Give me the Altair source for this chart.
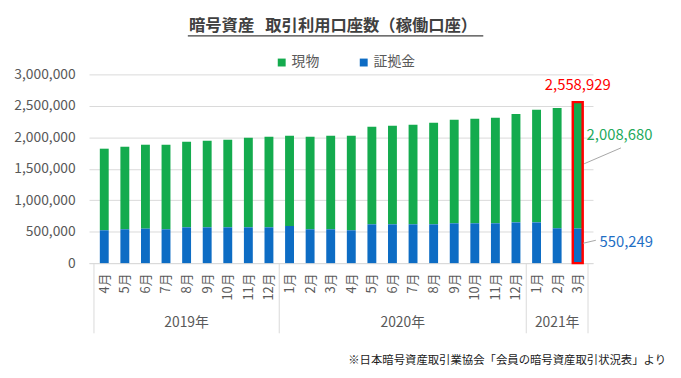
import altair as alt
import pandas as pd

# ---- data ----
months = ["4月", "5月", "6月", "7月", "8月", "9月", "10月", "11月", "12月",
          "1月", "2月", "3月", "4月", "5月", "6月", "7月", "8月", "9月", "10月", "11月", "12月",
          "1月", "2月", "3月"]
years = ["2019年", "2020年", "2021年"]
year_centers = [4, 14.5, 22]
year_bounds = [-0.5, 8.5, 20.5, 23.5]
genbutsu = [1297000, 1312000, 1334000, 1344000, 1361000, 1376000, 1392000, 1424000, 1440000,
            1434000, 1471000, 1486000, 1502000, 1550000, 1566000, 1581000, 1613000, 1644000,
            1660000, 1676000, 1724000, 1788000, 1913000, 2008680]
shokokin = [522000, 538000, 548000, 538000, 569000, 569000, 569000, 569000, 569000,
            590000, 538000, 538000, 522000, 617000, 617000, 617000, 617000, 633000,
            633000, 633000, 648000, 648000, 554000, 550249]
y_ticks = [0, 500000, 1000000, 1500000, 2000000, 2500000, 3000000]
series_names = ["現物", "証拠金"]
title_text = "暗号資産\u00a0\u00a0\u00a0取引利用口座数（稼働口座）"
source_text = "※日本暗号資産取引業協会「会員の暗号資産取引状況表」より"

GREEN = "#14ab4e"
BLUE = "#0d6cc4"
FONT = "Noto Sans CJK JP"
W, H = 510, 191

rows = []
for i in range(len(months)):
    rows.append({"idx": i, "series": "現物", "value": genbutsu[i], "ord": 1})
    rows.append({"idx": i, "series": "証拠金", "value": shokokin[i], "ord": 0})
df = pd.DataFrame(rows)

last = len(months) - 1
total_last = genbutsu[last] + shokokin[last]
ann = pd.DataFrame([{"idx": last, "total": total_last, "zero": 0,
                     "g": genbutsu[last], "b": shokokin[last],
                     "tl": f"{total_last:,}", "gl": f"{genbutsu[last]:,}", "bl": f"{shokokin[last]:,}"}])

xscale = alt.Scale(domain=[-0.5, 23.5], nice=False, zero=False)
yscale = alt.Scale(domain=[0, 3000000], nice=False)
label_expr = "[" + ",".join(f"'{m}'" for m in months) + "][datum.value]"

AX = alt.Axis(values=list(range(len(months))), labelExpr=label_expr, labelAngle=270,
              ticks=False, grid=False, domainColor="#d9d9d9", labelFontSize=13,
              labelColor="#595959", labelPadding=10, labelOverlap=False,
              labelFlush=False, title=None, labelFont=FONT)
AY = alt.Axis(values=y_ticks, labelExpr="format(datum.value, ',')", grid=True, gridColor="#d9d9d9",
              domain=False, ticks=False,
              labelPadding=14, labelFontSize=14, labelColor="#595959", title=None,
              labelFont=FONT, labelOverlap=False)


def X(field):
    return alt.X(field, scale=xscale, axis=AX, title=None)


def Y(field, **kw):
    return alt.Y(field, scale=yscale, axis=AY, title=None, **kw)


bars = alt.Chart(df).mark_bar(size=9).encode(
    x=X("idx:Q"),
    y=Y("value:Q", stack="zero"),
    color=alt.Color("series:N", scale=alt.Scale(domain=series_names, range=[GREEN, BLUE]),
                    legend=alt.Legend(orient="none", legendX=188, legendY=-19, direction="horizontal",
                                      title=None, symbolType="square", symbolSize=64,
                                      symbolStrokeWidth=0, labelFontSize=14, labelColor="#595959",
                                      labelFont=FONT, labelOffset=3, columnPadding=38)),
    order=alt.Order("ord:Q"),
)

seps = alt.Chart(pd.DataFrame({"sep": year_bounds})).mark_rule(color="#d9d9d9").encode(
    x=X("sep:Q"), y=alt.value(H), y2=alt.value(H + 71))

year_txt = alt.Chart(pd.DataFrame({"c": year_centers, "y": years})).mark_text(
    fontSize=14, color="#595959", font=FONT).encode(
    x=X("c:Q"), y=alt.value(H + 61), text="y:N")

redbox = alt.Chart(ann).mark_bar(size=10, fillOpacity=0, stroke="#ff0000", strokeWidth=2.5).encode(
    x=X("idx:Q"), y=Y("zero:Q"), y2="total:Q")

t_total = alt.Chart(ann).mark_text(fontSize=15, color="#ff0000", font=FONT, dy=-17).encode(
    x=X("idx:Q"), y=Y("total:Q"), text="tl:N")
t_g = alt.Chart(ann).mark_text(fontSize=15, color="#22a95b", font=FONT, align="left", dx=9, dy=33).encode(
    x=X("idx:Q"), y=Y("total:Q"), text="gl:N")
t_b = alt.Chart(ann).mark_text(fontSize=15, color="#1f6fc5", font=FONT, align="left", dx=22, dy=14).encode(
    x=X("idx:Q"), y=Y("b:Q"), text="bl:N")

leaders = pd.DataFrame({"x": [23.31, 23.26], "x2": [25.1, 23.88],
                        "y": [1578900, 315800], "y2": [1831500, 363200]})
lead = alt.Chart(leaders).mark_rule(color="#a6a6a6", strokeWidth=1).encode(
    x=X("x:Q"), x2="x2:Q", y=Y("y:Q"), y2="y2:Q")

title = alt.Chart(pd.DataFrame({"t": [title_text]})).mark_text(
    fontSize=16.5, fontWeight="bold", color="#404040", font=FONT).encode(
    x=alt.value(247), y=alt.value(-49), text="t:N")
underline = alt.Chart(pd.DataFrame({"a": [0]})).mark_rule(color="#404040", strokeWidth=1.2).encode(
    x=alt.value(100), x2=alt.value(399), y=alt.value(-39))
source = alt.Chart(pd.DataFrame({"t": [source_text]})).mark_text(
    fontSize=11.5, color="#1a1a1a", font=FONT, align="right").encode(
    x=alt.value(584), y=alt.value(H + 99), text="t:N")

chart = alt.layer(bars, seps, year_txt, redbox, lead, t_total, t_g, t_b, title, underline, source).properties(
    width=W, height=H,
    autosize=alt.AutoSizeParams(type="none"),
    padding={"left": 82, "top": 65, "right": 81, "bottom": 108},
).configure_view(stroke=None)

chart.save("out.html", embed_options={"renderer": "svg", "actions": False})
